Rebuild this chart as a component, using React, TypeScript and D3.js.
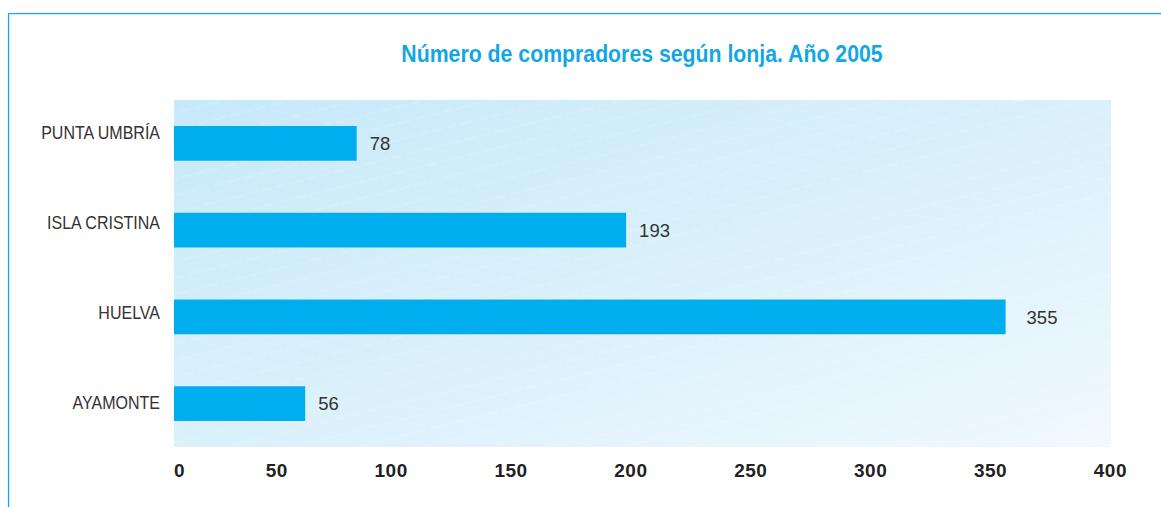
import { useEffect, useRef } from 'react'
import * as d3 from 'd3'

const CATEGORIES = ['PUNTA UMBRÍA', 'ISLA CRISTINA', 'HUELVA', 'AYAMONTE']
const VALUES = [78, 193, 355, 56]
const X_TICKS = [0, 50, 100, 150, 200, 250, 300, 350, 400]
const TITLE = 'Número de compradores según lonja. Año 2005'

const WIDTH = 1161
const HEIGHT = 507
const PLOT = { left: 174, right: 1111, top: 100, bottom: 447 }

const BAR_COLOR = '#00aeef'
const TITLE_COLOR = '#12a7e4'
const TEXT_COLOR = '#333333'
const SANS = '"Liberation Sans", Arial, sans-serif'
// the original uses a condensed face; squeeze Liberation Sans horizontally
const CAT_SQUEEZE = 0.89
const TITLE_SQUEEZE = 0.925

export default function App() {
  const svgRef = useRef<SVGSVGElement>(null)

  useEffect(() => {
    if (!svgRef.current) return
    const svg = d3.select(svgRef.current)
    svg.selectAll('*').remove()

    const defs = svg.append('defs')
    const grad = defs.append('linearGradient')
      .attr('id', 'bg-grad')
      .attr('x1', '0%').attr('y1', '0%')
      .attr('x2', '100%').attr('y2', '100%')
    grad.append('stop').attr('offset', '0%').attr('stop-color', '#c7e9f9')
    grad.append('stop').attr('offset', '55%').attr('stop-color', '#dcf1fb')
    grad.append('stop').attr('offset', '100%').attr('stop-color', '#f0f9fe')

    // faint diagonal streaks over the plot background
    const pat = defs.append('pattern')
      .attr('id', 'streaks')
      .attr('patternUnits', 'userSpaceOnUse')
      .attr('width', 60).attr('height', 16)
      .attr('patternTransform', 'rotate(-14)')
    pat.append('line')
      .attr('x1', 0).attr('x2', 60).attr('y1', 8).attr('y2', 8)
      .attr('stroke', '#ffffff').attr('stroke-opacity', 0.35)
      .attr('stroke-width', 0.8).attr('stroke-dasharray', '10,4')

    // frame lines
    svg.append('line')
      .attr('x1', 8.5).attr('x2', WIDTH).attr('y1', 13.5).attr('y2', 13.5)
      .attr('stroke', '#1ba3dc').attr('stroke-width', 1.2)
    svg.append('line')
      .attr('x1', 9.5).attr('x2', WIDTH).attr('y1', 14.8).attr('y2', 14.8)
      .attr('stroke', '#c4e9f8').attr('stroke-width', 1)
    svg.append('line')
      .attr('x1', 8.5).attr('x2', 8.5).attr('y1', 13).attr('y2', HEIGHT)
      .attr('stroke', '#1ba3dc').attr('stroke-width', 1.2)
    svg.append('line')
      .attr('x1', 9.8).attr('x2', 9.8).attr('y1', 14.5).attr('y2', HEIGHT)
      .attr('stroke', '#c4e9f8').attr('stroke-width', 1)

    const x = d3.scaleLinear().domain([0, 400]).range([PLOT.left, PLOT.right])
    // the printed axis labels are right-aligned on their own, slightly wider spacing
    const xLabel = d3.scaleLinear().domain([0, 400]).range([168, 1127])
    const y = d3.scaleBand<string>()
      .domain(CATEGORIES)
      .range([PLOT.top, PLOT.bottom])
      .paddingInner(0.6)
      .paddingOuter(0.3)
    // category labels sit on a slightly wider rhythm than the bars
    const yLabel = d3.scalePoint<string>().domain(CATEGORIES).range([133, 403])

    svg.append('rect')
      .attr('x', PLOT.left).attr('y', PLOT.top)
      .attr('width', PLOT.right - PLOT.left).attr('height', PLOT.bottom - PLOT.top)
      .attr('fill', 'url(#bg-grad)')
    svg.append('rect')
      .attr('x', PLOT.left).attr('y', PLOT.top)
      .attr('width', PLOT.right - PLOT.left).attr('height', PLOT.bottom - PLOT.top)
      .attr('fill', 'url(#streaks)')

    // title
    svg.append('text')
      .text(TITLE)
      .attr('transform', `translate(642,62) scale(${TITLE_SQUEEZE},1)`)
      .attr('text-anchor', 'middle')
      .attr('font-family', SANS)
      .attr('font-weight', 'bold')
      .attr('font-size', 23)
      .attr('fill', TITLE_COLOR)

    const rows = CATEGORIES.map((c, i) => ({ cat: c, value: VALUES[i] }))

    svg.selectAll('.bar')
      .data(rows)
      .enter()
      .append('rect')
      .attr('x', x(0))
      .attr('y', d => y(d.cat)!)
      .attr('width', d => x(d.value) - x(0))
      .attr('height', y.bandwidth())
      .attr('fill', BAR_COLOR)

    svg.selectAll('.val')
      .data(rows)
      .enter()
      .append('text')
      .text(d => d.value)
      .attr('x', d => x(d.value) + (d.value > 300 ? 21 : 13))
      .attr('y', d => y(d.cat)! + y.bandwidth() / 2)
      .attr('dy', '0.36em')
      .attr('font-family', SANS)
      .attr('font-size', 18.5)
      .attr('fill', TEXT_COLOR)

    svg.selectAll('.cat')
      .data(CATEGORIES)
      .enter()
      .append('text')
      .text(d => d)
      .attr('transform', d => `translate(${PLOT.left - 14},${yLabel(d)}) scale(${CAT_SQUEEZE},1)`)
      .attr('dy', '0.36em')
      .attr('text-anchor', 'end')
      .attr('font-family', SANS)
      .attr('font-size', 18)
      .attr('fill', TEXT_COLOR)

    svg.selectAll('.tick-label')
      .data(X_TICKS)
      .enter()
      .append('text')
      .text(d => d)
      .attr('x', d => (d === 0 ? x(0) : xLabel(d)))
      .attr('y', 477)
      .attr('text-anchor', d => (d === 0 ? 'start' : 'end'))
      .attr('font-family', SANS)
      .attr('font-weight', 'bold')
      .attr('font-size', 19)
      .attr('letter-spacing', 0.5)
      .attr('fill', '#222222')
  }, [])

  return (
    <svg
      ref={svgRef}
      width={WIDTH}
      height={HEIGHT}
      style={{ position: 'absolute', left: 0, top: 0, display: 'block', background: '#ffffff' }}
    />
  )
}
